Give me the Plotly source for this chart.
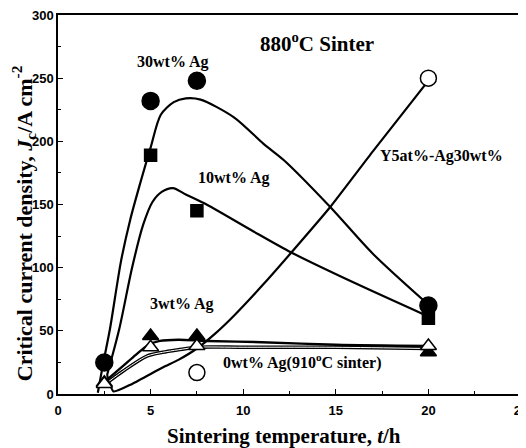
import plotly.graph_objects as go

# ---- measured data points ----
time_30 = [2.5, 5, 7.5, 20]
jc_30 = [25, 232, 248, 70]
time_10 = [5, 7.5, 20]
jc_10 = [189, 145, 60]
time_3 = [2.5, 5, 7.5, 20]
jc_3 = [9, 46, 46, 33]
time_0 = [2.5, 5, 7.5, 20]
jc_0 = [8, 37, 38, 38]
time_y5 = [7.5, 20]
jc_y5 = [17, 250]

# ---- fitted curves ----
fit30_x = [2.15, 2.45, 2.8, 3.4, 3.9, 4.5, 5.0, 5.55, 6.25, 6.9, 7.7, 9.5, 11.1, 12.2, 14.7, 17.0, 19.9]
fit30_y = [1, 25, 51, 105, 138, 170, 195, 221, 231, 234, 233, 219, 198, 185, 148, 111, 72]
fit10_x = [2.65, 3.3, 4.0, 4.6, 5.1, 5.6, 6.2, 6.9, 7.9, 10.4, 12.6, 16.0, 19.9]
fit10_y = [15, 51, 100, 134, 152, 160, 163, 158, 151, 130, 112, 88, 62]
fit3_x = [2.7, 3.5, 4.2, 4.9, 5.5, 6.5, 8.0, 11.0, 15.0, 20.0]
fit3_y = [12, 22, 31, 39, 42, 43, 42, 41, 39, 38]
fit0_x = [2.75, 3.5, 4.8, 5.65, 6.5, 7.5, 10.0, 15.0, 20.0]
fit0_y = [10, 18, 30, 33, 35, 37, 37, 37, 36]
fity5_x = [2.65, 3.0, 4.0, 5.65, 6.5, 7.5, 8.5, 9.5, 11.1, 12.6, 14.7, 17.0, 20.0]
fity5_y = [15, 2, 8, 21, 27, 36, 48, 62, 87, 112, 148, 192, 248]

x_ticks = [0, 5, 10, 15, 20, 25]
y_ticks = [0, 50, 100, 150, 200, 250, 300]

SERIF = "Liberation Serif"

fig = go.Figure()

def curve(x, y, width=2.2, color="black", smoothing=0.8):
    fig.add_trace(go.Scatter(x=x, y=y, mode="lines",
                             line=dict(color=color, width=width, shape="spline", smoothing=smoothing),
                             showlegend=False, hoverinfo="skip"))

curve(fit30_x, fit30_y)
curve(fit10_x, fit10_y)
curve(fity5_x, fity5_y, smoothing=0.5)
curve(fit0_x, fit0_y, width=3.5)
curve(fit0_x, fit0_y, width=1.0, color="white")
curve(fit3_x, fit3_y, width=2.4)

def markers(x, y, symbol, size, fill):
    fig.add_trace(go.Scatter(x=x, y=y, mode="markers",
                             marker=dict(symbol=symbol, size=size, color=fill,
                                         line=dict(color="black", width=1.5)),
                             showlegend=False))

markers(time_10, jc_10, "square", 12, "black")
markers(time_3, jc_3, "triangle-up", 14, "black")
markers(time_0, jc_0, "triangle-up", 14, "white")
markers(time_y5, jc_y5, "circle", 16, "white")
markers(time_30, jc_30, "circle", 17, "black")

def label(x, y, text, size=15):
    fig.add_annotation(x=x, y=y, xref="x", yref="y", text=text, showarrow=False,
                       font=dict(family=SERIF, size=size, color="black"))

label(14.0, 278, "<b>880<sup>o</sup>C Sinter</b>", 21)
label(6.2, 263, "<b>30wt% Ag</b>", 16)
label(9.5, 171, "<b>10wt% Ag</b>", 16)
label(6.7, 71, "<b>3wt% Ag</b>", 16)
label(13.2, 26, "<b>0wt% Ag(910<sup>o</sup>C sinter)</b>", 16)
label(20.7, 188, "<b>Y5at%-Ag30wt%</b>", 16)

# axis titles (placed as rotated / plain paper annotations)
fig.add_annotation(x=-0.074, y=0.45, xref="paper", yref="paper", xanchor="center", yanchor="middle",
                   text="<b>Critical current density, <i>J</i><sub>c</sub>/A cm<sup>-2</sup></b>",
                   textangle=-90, showarrow=False,
                   font=dict(family=SERIF, size=22, color="black"))
fig.add_annotation(x=0.488, y=-0.11, xref="paper", yref="paper", xanchor="center", yanchor="middle",
                   text="<b>Sintering temperature, <i>t</i>/h</b>", showarrow=False,
                   font=dict(family=SERIF, size=21, color="black"))

axis_common = dict(showline=True, linecolor="black", linewidth=1.5, mirror=True,
                   ticks="inside", ticklen=5, tickwidth=1.2, tickcolor="black",
                   showgrid=False, zeroline=False, automargin=False, ticklabeloverflow="allow",
                   tickfont=dict(family="Liberation Sans", size=13, color="black", weight="bold"))

fig.update_xaxes(range=[0, 25], tickvals=x_ticks, ticktext=[str(v) for v in x_ticks],
                 minor=dict(ticks="inside", ticklen=3, tickcolor="black", dtick=2.5),
                 ticklabelstandoff=4, **axis_common)
fig.update_yaxes(range=[0, 300], tickvals=y_ticks, ticktext=[str(v) for v in y_ticks],
                 minor=dict(ticks="inside", ticklen=3, tickcolor="black", dtick=25),
                 **axis_common)

fig.update_layout(width=526, height=448, margin=dict(l=50, r=13, t=7, b=62),
                  paper_bgcolor="white", plot_bgcolor="white")

fig.write_html("out.html")
